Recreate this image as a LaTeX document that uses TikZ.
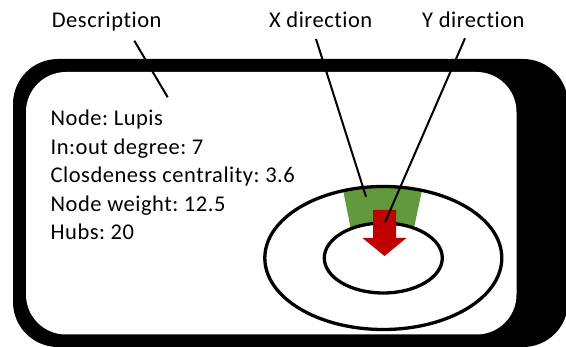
\documentclass[tikz,border=0pt]{standalone}
\usepackage{fontspec}
\setmainfont{Carlito}[Ligatures=NoCommon,LetterSpace=2.3]
\frenchspacing
\begin{document}
\begin{tikzpicture}[x=1pt,y=-1pt,
  lbl/.style={anchor=base west,inner sep=0pt,font=\fontsize{22.5}{28}\selectfont},
  pointer/.style={line width=2pt,black},
  ring/.style={line width=3.3pt,black}]
\definecolor{bandgreen}{RGB}{99,153,61}
\definecolor{arrowred}{RGB}{192,0,0}
\useasboundingbox (0,0) rectangle (566,347);

% framed panel: black body with an inset white face
\fill[black,rounded corners=45pt] (13,59) rectangle (568,347);
\fill[white,rounded corners=40pt] (26,72) rectangle (516.5,334.5);

% green sector of the ring
\begin{scope}
  \clip (341,180) -- (424.2,180) -- (411.4,240) -- (353,240) -- cycle;
  \fill[bandgreen,even odd rule] (383.3,258) ellipse [x radius=118.5pt,y radius=71.5pt]
                                 (383.3,258) ellipse [x radius=59pt,y radius=35pt];
\end{scope}

% rings
\draw[ring] (383.3,258) ellipse [x radius=118.5pt,y radius=71.5pt];
\draw[ring] (383.3,258) ellipse [x radius=59pt,y radius=35pt];

% red arrow pointing down into the centre
\fill[arrowred] (373,210) -- (396,210) -- (396,238) -- (406.5,238) -- (384.5,256)
  -- (362.5,238) -- (373,238) -- cycle;

% text
\node[lbl] (n1) at (50.5,126) {Node: Lupis};
\node[lbl] (n2) at (50.5,154.5) {In:out degree: 7};
\node[lbl] (n3) at (50.5,183) {Closdeness centrality: 3.6};
\node[lbl] (n4) at (50.5,211.5) {Node weight: 12.5};
\node[lbl] (n5) at (50.5,240) {Hubs: 20};

\node[lbl] (desc) at (51.7,27.7) {Description};
\node[lbl] (xdir) at (269,27.7) {X direction};
\node[lbl] (ydir) at (422,27.7) {Y direction};

% pointer lines
\coordinate (descA) at (134.3,40.7);
\coordinate (descB) at (167.7,97.3);
\coordinate (xA) at (316,39);
\coordinate (xB) at (366,196.7);
\coordinate (yA) at (465,38.3);
\coordinate (yB) at (385,222.3);
\draw[pointer] (descA) -- (descB);
\draw[pointer] (xA) -- (xB);
\draw[pointer] (yA) -- (yB);
\end{tikzpicture}
\end{document}
